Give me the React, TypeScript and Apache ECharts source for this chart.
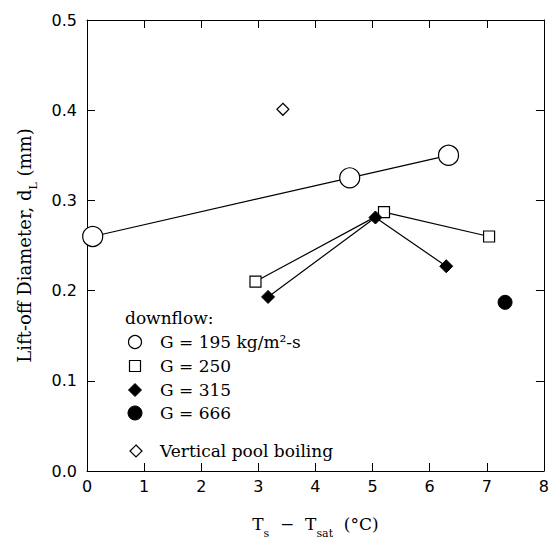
import React, { useEffect, useRef } from "react";
import * as echarts from "echarts";

// T_s - T_sat (°C), lift-off diameter d_L (mm)
const g195 = [
  [0.1, 0.26],
  [4.6, 0.325],
  [6.33, 0.35],
];
const g250 = [
  [2.95, 0.21],
  [5.2, 0.287],
  [7.04, 0.26],
];
const g315 = [
  [3.17, 0.193],
  [5.05, 0.281],
  [6.29, 0.227],
];
const g666 = [[7.32, 0.187]];
const poolBoiling = [[3.43, 0.401]];

const seriesNames = [
  "G = 195 kg/m²-s",
  "G = 250",
  "G = 315",
  "G = 666",
  "Vertical pool boiling",
];
const legendTitle = "downflow:";

const xMin = 0, xMax = 8, xStep = 1;
const yMin = 0, yMax = 0.5, yStep = 0.1;

const SERIF = "DejaVu Serif";
const SANS = "DejaVu Sans";

function diamondPts(cx: number, cy: number, w: number): number[][] {
  const h = w / 2;
  return [
    [cx, cy - h],
    [cx + h, cy],
    [cx, cy + h],
    [cx - h, cy],
  ];
}

export default function App() {
  const ref = useRef<HTMLDivElement>(null);
  useEffect(() => {
    if (!ref.current) return;
    document.body.style.margin = "0";
    const chart = echarts.init(ref.current, null, { renderer: "svg" });
    const black = "#000";
    const tick = { show: true, inside: true, length: 8, lineStyle: { color: black, width: 1 } };
    const axisLine = { show: true, onZero: false, lineStyle: { color: black, width: 1 } };

    // legend layout (drawn as graphic elements)
    const symX = 135;
    const textX = 160;
    const rowY = [342, 366, 390, 413, 451];
    const textFont = `17px "${SERIF}"`;
    const open = { fill: "#fff", stroke: black, lineWidth: 1.2 };
    const solid = { fill: black, stroke: black, lineWidth: 1 };
    const legendGraphics: any[] = [
      { type: "text", x: 125, y: 318, style: { text: legendTitle, font: textFont, fill: black, verticalAlign: "middle" } },
      { type: "circle", shape: { cx: symX, cy: rowY[0], r: 6.5 }, style: open },
      { type: "rect", shape: { x: symX - 5.5, y: rowY[1] - 5.5, width: 11, height: 11 }, style: open },
      { type: "polygon", shape: { points: diamondPts(symX, rowY[2], 13) }, style: solid },
      { type: "circle", shape: { cx: symX, cy: rowY[3], r: 7 }, style: solid },
      { type: "polygon", shape: { points: diamondPts(symX + 1, rowY[4], 12) }, style: open },
    ];
    seriesNames.forEach((n, i) => {
      legendGraphics.push({
        type: "text",
        x: textX,
        y: rowY[i],
        style: { text: n, font: textFont, fill: black, verticalAlign: "middle" },
      });
    });

    chart.setOption({
      animation: false,
      backgroundColor: "#fff",
      grid: { left: 87, right: 2, top: 20, bottom: 68, containLabel: false },
      xAxis: [
        {
          type: "value",
          min: xMin,
          max: xMax,
          interval: xStep,
          position: "bottom",
          axisLine,
          axisTick: tick,
          splitLine: { show: false },
          axisLabel: { color: black, fontFamily: SANS, fontSize: 16, margin: 7 },
          name: "T{sub|s}  −  T{sub|sat}  (°C)",
          nameLocation: "middle",
          nameGap: 38,
          nameTextStyle: {
            fontFamily: SERIF,
            fontSize: 17,
            color: black,
            lineHeight: 30,
            rich: {
              sub: { fontFamily: SERIF, fontSize: 11, color: black, lineHeight: 12, verticalAlign: "bottom" },
            },
          },
        },
        {
          type: "value",
          min: xMin,
          max: xMax,
          interval: xStep,
          position: "top",
          axisLine,
          axisTick: tick,
          splitLine: { show: false },
          axisLabel: { show: false },
        },
      ],
      yAxis: [
        {
          type: "value",
          min: yMin,
          max: yMax,
          interval: yStep,
          position: "left",
          axisLine,
          axisTick: tick,
          splitLine: { show: false },
          axisLabel: {
            color: black,
            fontFamily: SANS,
            fontSize: 16,
            margin: 10,
            formatter: (v: number) => v.toFixed(1),
          },
          name: "Lift-off Diameter, d{sub|L} (mm)",
          nameLocation: "middle",
          nameGap: 48,
          nameRotate: 90,
          nameTextStyle: {
            fontFamily: SERIF,
            fontSize: 18,
            color: black,
            lineHeight: 30,
            rich: {
              sub: { fontFamily: SERIF, fontSize: 11, color: black, lineHeight: 12, verticalAlign: "bottom" },
            },
          },
        },
        {
          type: "value",
          min: yMin,
          max: yMax,
          interval: yStep,
          position: "right",
          axisLine,
          axisTick: tick,
          splitLine: { show: false },
          axisLabel: { show: false },
        },
      ],
      graphic: legendGraphics,
      series: [
        {
          name: seriesNames[0],
          type: "line",
          data: g195,
          symbol: "circle",
          symbolSize: 20,
          lineStyle: { color: black, width: 1.2 },
          itemStyle: { color: "#fff", borderColor: black, borderWidth: 1.2 },
          z: 3,
        },
        {
          name: seriesNames[1],
          type: "line",
          data: g250,
          symbol: "rect",
          symbolSize: 11,
          lineStyle: { color: black, width: 1.2 },
          itemStyle: { color: "#fff", borderColor: black, borderWidth: 1.2 },
          z: 3,
        },
        {
          name: seriesNames[2],
          type: "line",
          data: g315,
          symbol: "diamond",
          symbolSize: 13,
          lineStyle: { color: black, width: 1.2 },
          itemStyle: { color: black, borderColor: black, borderWidth: 1 },
          z: 4,
        },
        {
          name: seriesNames[3],
          type: "scatter",
          data: g666,
          symbol: "circle",
          symbolSize: 14,
          itemStyle: { color: black, borderColor: black, borderWidth: 1, opacity: 1 },
        },
        {
          name: seriesNames[4],
          type: "scatter",
          data: poolBoiling,
          symbol: "diamond",
          symbolSize: 12,
          itemStyle: { color: "#fff", borderColor: black, borderWidth: 1.2, opacity: 1 },
        },
      ],
    });
    return () => chart.dispose();
  }, []);
  return <div ref={ref} style={{ width: 552, height: 544 }} />;
}
